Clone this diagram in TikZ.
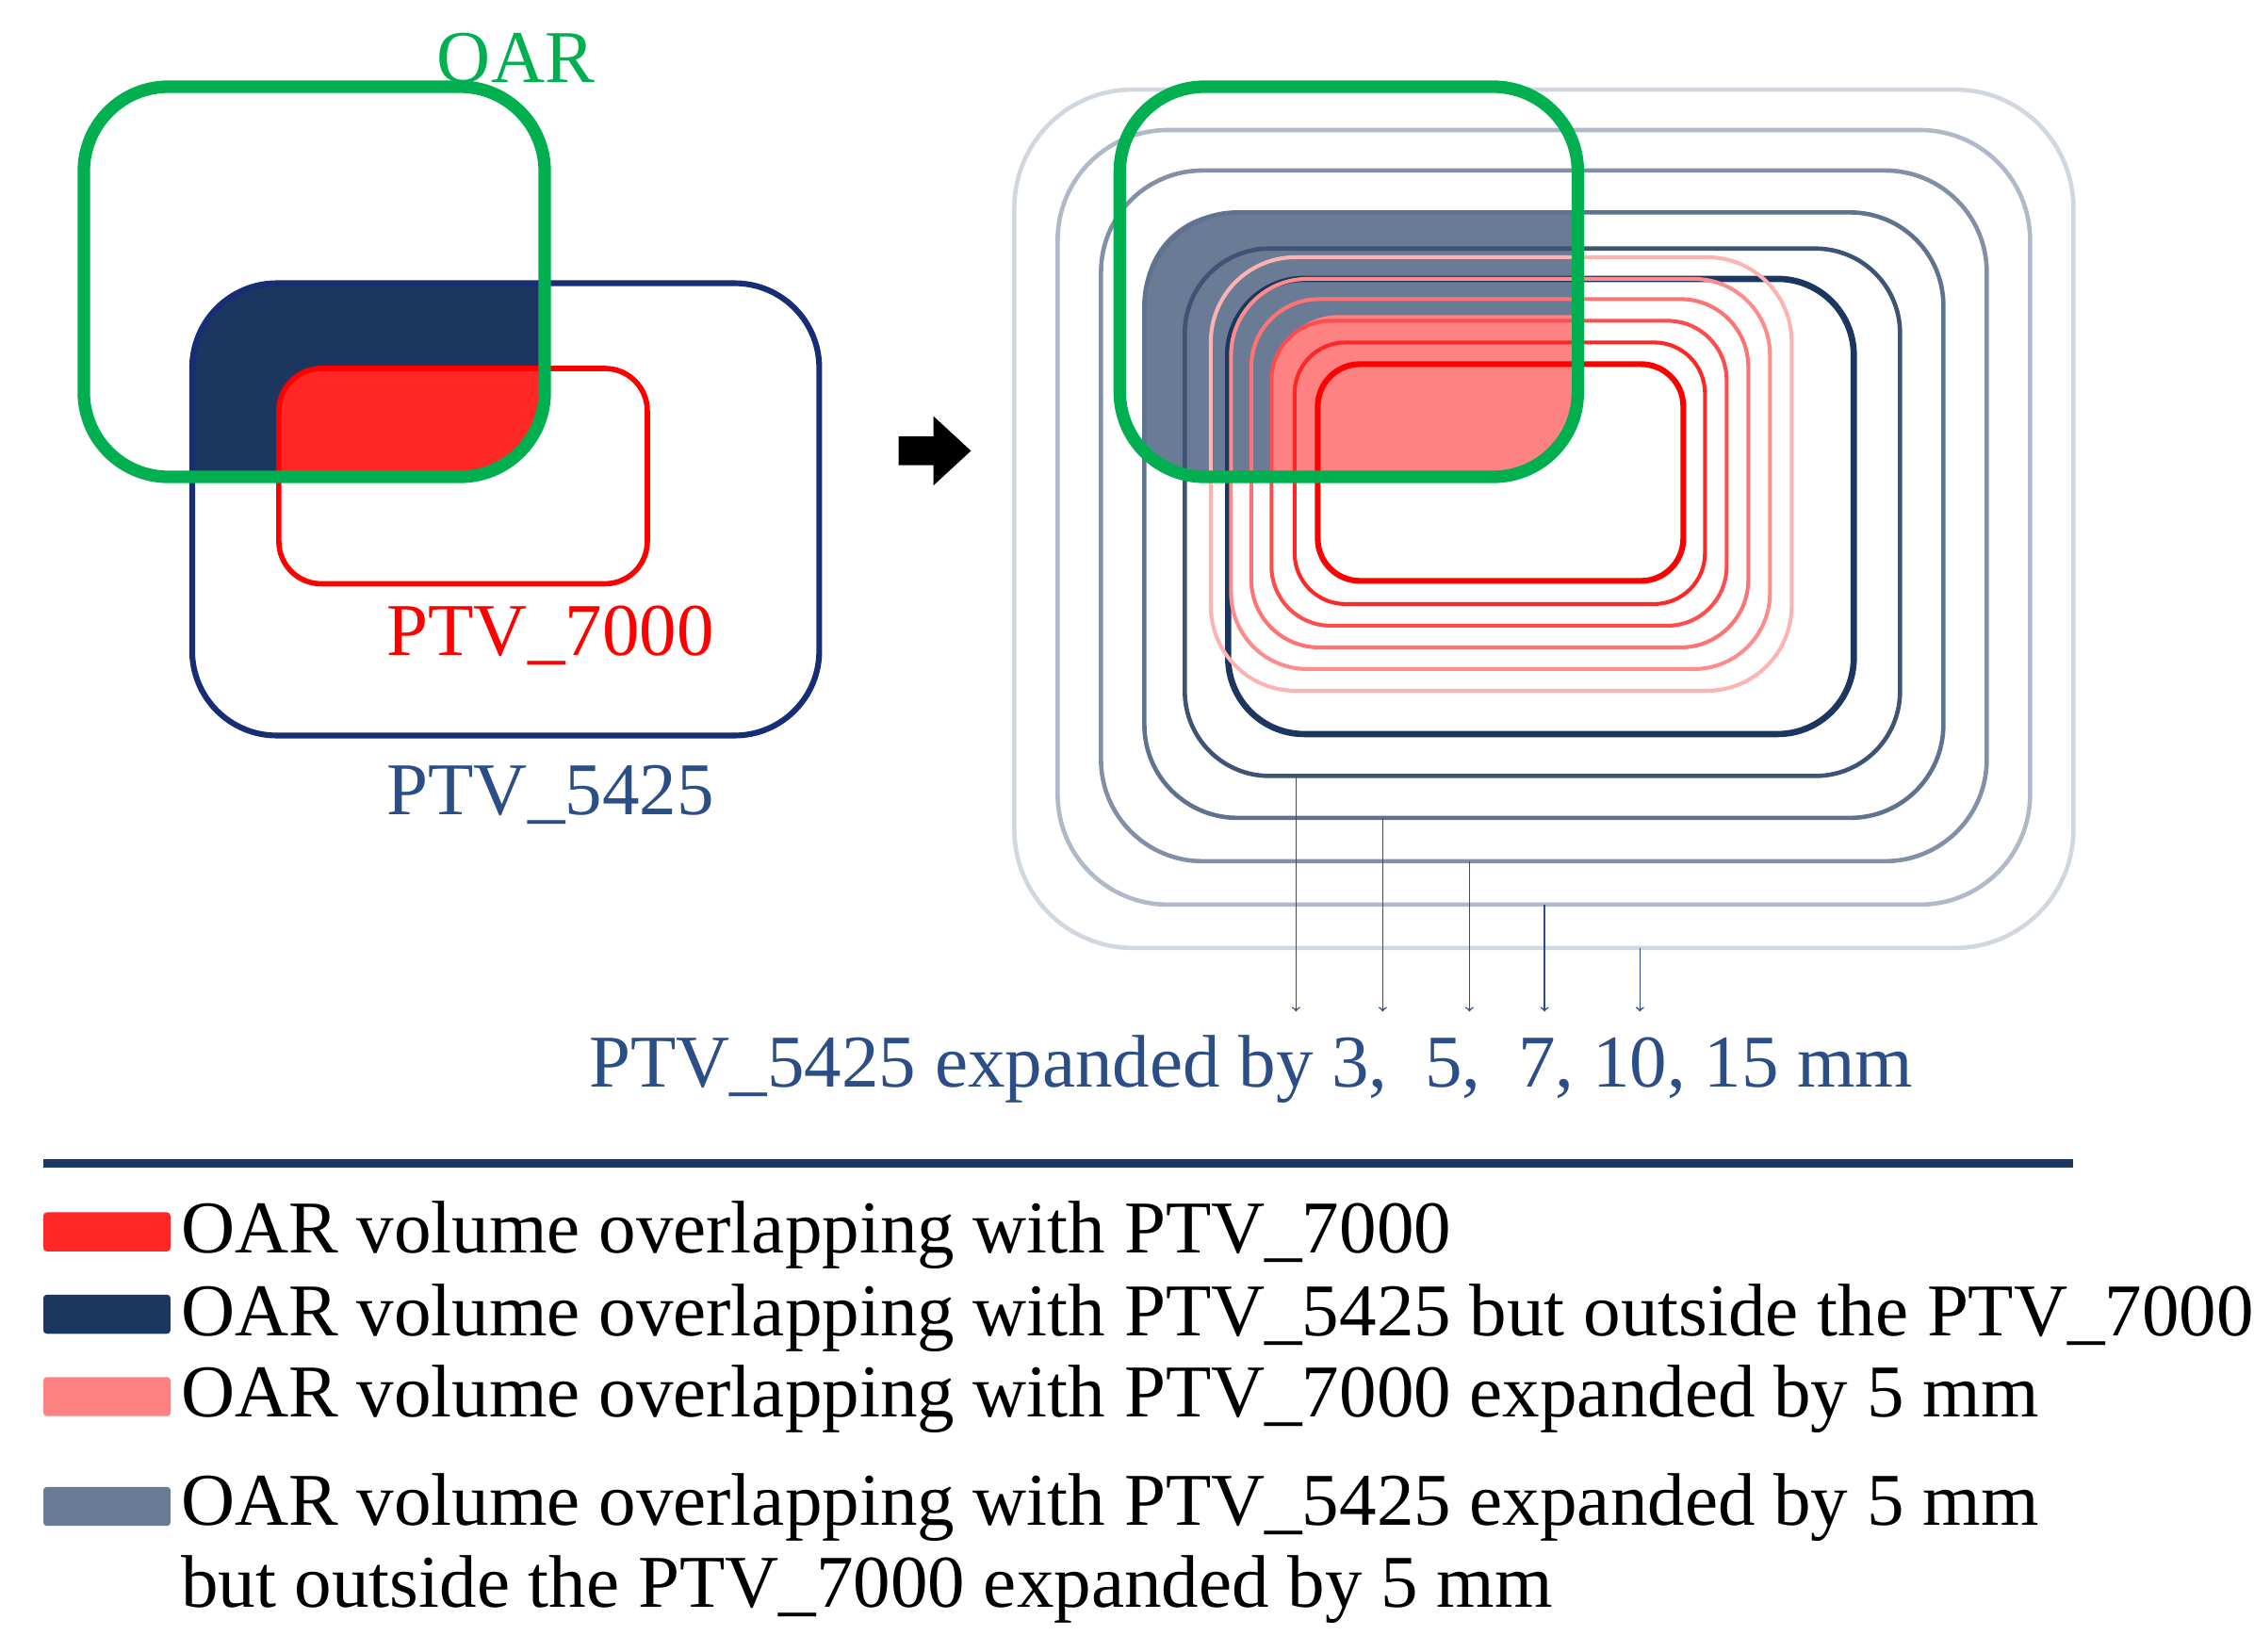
\documentclass[tikz,border=0pt]{standalone}
\usepackage{fontspec}
\setmainfont{Liberation Serif}
\begin{document}
\begin{tikzpicture}[x=0.3mm,y=-0.3mm,
  txt/.style={font=\fontsize{44}{50}\selectfont,inner sep=0pt},
  rr/.style={rounded corners=#1}]
\definecolor{navy}{HTML}{1B365F}
\definecolor{oar}{HTML}{00B050}
\definecolor{slate}{HTML}{6A7B96}
\definecolor{pink}{HTML}{FF8282}
\definecolor{tblue}{HTML}{2B4E86}
\useasboundingbox (0,0) rectangle (1560,1143);
% ---- left
\begin{scope}
 \clip[rr=50] (58,60) rectangle (377,330);
 \clip[rr=50] (133,196) rectangle (567,509);
 \fill[navy] (0,0) rectangle (800,800);
 \clip[rr=25] (193,255) rectangle (448,404);
 \fill[red!85!white] (0,0) rectangle (800,800);
\end{scope}
\draw[navy!85!blue,line width=1.2mm,rr=50] (133,196) rectangle (567,509);
\draw[red,line width=1.1mm,rr=25] (193,255) rectangle (448,404);
\draw[oar,line width=2.6mm,rr=50] (58,60) rectangle (377,330);
\node[txt,text=oar] (oarl) at (357,40) {OAR};
\node[txt,text=red] (p7) at (381,440) {PTV\_7000};
\node[txt,text=tblue] (p5) at (381,550) {PTV\_5425};
\fill[black] (622,302) -- (646,302) -- (646,288) -- (672,312) -- (646,336) -- (646,322) -- (622,322) -- cycle;
% ---- right fills
\begin{scope}
 \clip[rr=50] (775,60) rectangle (1092,330);
 \clip[rr=50] (792,147) rectangle (1345,566);
 \fill[slate] (0,0) rectangle (1600,800);
 \clip[rr=40] (880,218) rectangle (1195,433);
 \fill[pink] (0,0) rectangle (1600,800);
\end{scope}
% blue expansions
\draw[navy!20!white,line width=0.9mm,rr=70] (702,62) rectangle (1435,656);
\draw[navy!35!white,line width=0.9mm,rr=65] (732,90) rectangle (1405,626);
\draw[navy!55!white,line width=0.9mm,rr=60] (762,118) rectangle (1375,596);
\draw[navy!70!white,line width=0.9mm,rr=55] (792,147) rectangle (1345,566);
\draw[navy!85!white,line width=0.9mm,rr=50] (820,172) rectangle (1315,537);
\draw[navy,line width=1.3mm,rr=45] (850,193) rectangle (1283,508);
% red expansions
\draw[red!30!white,line width=0.8mm,rr=50] (838,178) rectangle (1240,478);
\draw[red!45!white,line width=0.8mm,rr=45] (852,193) rectangle (1225,463);
\draw[red!55!white,line width=0.8mm,rr=40] (866,207) rectangle (1210,448);
\draw[red!70!white,line width=0.8mm,rr=35] (880,222) rectangle (1195,433);
\draw[red!85!white,line width=0.8mm,rr=30] (896,237) rectangle (1180,418);
\draw[red,line width=1.2mm,rr=25] (912,252) rectangle (1165,402);
\draw[oar,line width=2.6mm,rr=50] (775,60) rectangle (1092,330);
% arrows
\foreach \x/\y [count=\i] in {897/537,957/566,1017/596,1069/626,1135/656}{
  \coordinate (s\i) at (\x,\y); \coordinate (e\i) at (\x,700);
  \draw[tblue,line width=0.3mm,->] (s\i) -- (e\i);}
\node[txt,text=tblue] (exp) at (866,740) {PTV\_5425 expanded by 3,\ \ 5,\ \ 7, 10, 15 mm};
% legend
\draw[navy,line width=1.8mm] (30,805) -- (1435,805);
\fill[red!85!white,rounded corners=2] (30,839) rectangle (118,866);
\fill[navy,rounded corners=2] (30,896) rectangle (118,923);
\fill[pink,rounded corners=2] (30,953) rectangle (118,980);
\fill[slate,rounded corners=2] (30,1029) rectangle (118,1056);
\node[txt,anchor=west] (l1) at (125,855) {OAR volume overlapping with PTV\_7000};
\node[txt,anchor=west] (l2) at (125,912) {OAR volume overlapping with PTV\_5425 but outside the PTV\_7000};
\node[txt,anchor=west] (l3) at (125,968) {OAR volume overlapping with PTV\_7000 expanded by 5 mm};
\node[txt,anchor=west] (l4) at (125,1043) {OAR volume overlapping with PTV\_5425 expanded by 5 mm};
\node[txt,anchor=west] (l5) at (125,1100) {but outside the PTV\_7000 expanded by 5 mm};
\end{tikzpicture}
\end{document}
